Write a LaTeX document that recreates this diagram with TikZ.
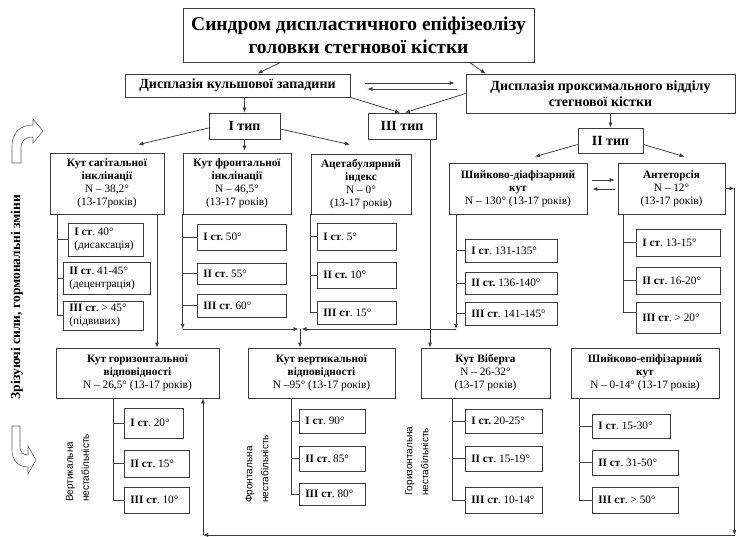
\documentclass[tikz,border=0pt]{standalone}
\usepackage{fontspec}
\setmainfont{Liberation Serif}
\newfontfamily\sansf{Liberation Sans}
\usetikzlibrary{arrows.meta,calc}
\definecolor{lc}{HTML}{3A3A3A}
\frenchspacing
\newcommand\fs[2]{\fontsize{#1}{#2}\selectfont}
\tikzset{
 ln/.style={draw=lc, line width=0.75pt},
 ar/.style={ln, -{Latex[length=5pt,width=4pt]}},
 bx/.style={draw=lc, line width=0.75pt, inner sep=0pt, align=center, font=\fs{11.3}{13}},
 sb/.style={draw=lc, line width=0.75pt, inner sep=0pt},
 st/.style={anchor=west, align=left, inner sep=0pt, font=\fs{11.3}{13}},
 vl/.style={rotate=90, anchor=west, align=left, inner sep=0pt, font=\sansf\fs{10}{16}},
 hollow/.style={draw=lc!80, line width=0.6pt, fill=white},
}
\newcommand\hb[6][]{\node[bx,#1,minimum width={(#4-#2)*1pt},minimum height={(#5-#3)*1pt}] at ({(#2+#4)/2},{(#3+#5)/2})}
\newcommand\stg[6]{\node[sb,minimum width={(#4-#2)*1pt},minimum height={(#5-#3)*1pt}] (#1) at ({(#2+#4)/2},{(#3+#5)/2}) {};
\node[st] (#1t) at ([xshift=6.5pt]#1.west) {#6};}
\begin{document}
\begin{tikzpicture}[x=1pt,y=-1pt]
\useasboundingbox (0,0) rectangle (736,537);
% main boxes
\hb[font=\fs{19.5}{23}\bfseries]{183}{8}{534}{62}{} (title) {Синдром диспластичного епіфізеолізу\\головки стегнової кістки};
\hb[font=\fs{14}{16}\bfseries]{125}{74}{350}{97}{} (dk) {Дисплазія кульшової западини};
\hb[font=\fs{14}{15.5}\bfseries]{466}{74}{735}{113}{} (dp) {Дисплазія проксимального відділу\\стегнової кістки};
\hb[font=\fs{14}{16}\bfseries]{209}{113}{280}{139}{} (t1) {I тип};
\hb[font=\fs{14}{16}\bfseries]{368}{113}{436}{139}{} (t3) {III тип};
\hb[font=\fs{14}{16}\bfseries]{578}{128}{643}{153}{} (t2) {II тип};
% second row
\hb{50}{153}{164}{214}{} (sag) {\textbf{Кут сагітальної}\\\textbf{інклінації}\\N – 38,2°\\(13-17років)};
\hb{183}{153}{291}{214}{} (fr) {\textbf{Кут фронтальної}\\\textbf{інклінації}\\N – 46,5°\\(13-17 років)};
\hb{311}{154}{411}{214}{} (ac) {\textbf{Ацетабулярний}\\\textbf{індекс}\\N – 0°\\(13-17 років)};
\hb{449}{163}{587}{214}{} (sd) {\textbf{Шийково-діафізарний}\\\textbf{кут}\\N – 130° (13-17 років)};
\hb{618}{163}{725}{214}{} (an) {\textbf{Антеторсія}\\N – 12°\\(13-17 років)};
% bottom row
\hb{56}{348}{219}{398}{} (hz) {\textbf{Кут горизонтальної}\\\textbf{відповідності}\\N – 26,5° (13-17 років)};
\hb{248}{348}{395}{398}{} (vt) {\textbf{Кут вертикальної}\\\textbf{відповідності}\\N –95° (13-17 років)};
\hb{421}{348}{550}{398}{} (vb) {\textbf{Кут Віберга}\\N – 26-32°\\(13-17 років)};
\hb{571}{348}{719}{398}{} (se) {\textbf{Шийково-епіфізарний}\\\textbf{кут}\\N – 0-14° (13-17 років)};
% stage boxes
\stg{s11}{68}{223}{143}{256}{\textbf{I ст}. 40°\\(дисаксація)}
\stg{s12}{63}{262}{150}{294}{\textbf{II ст}. 41-45°\\(децентрація)}
\stg{s13}{63}{301}{143}{330}{\textbf{III ст}. > 45°\\(підвивих)}
\stg{s21}{197}{224}{286}{250}{\textbf{I ст.} 50°}
\stg{s22}{197}{263}{286}{284}{\textbf{II ст}. 55°}
\stg{s23}{197}{294}{286}{317}{\textbf{III ст}. 60°}
\stg{s31}{317}{223}{396}{250}{\textbf{I ст}. 5°}
\stg{s32}{317}{262}{396}{288}{\textbf{II ст.} 10°}
\stg{s33}{317}{301}{396}{324}{\textbf{III ст}. 15°}
\stg{s41}{465}{239}{557}{262}{\textbf{I ст}. 131-135°}
\stg{s42}{465}{272}{557}{294}{\textbf{II ст.} 136-140°}
\stg{s43}{465}{302}{557}{325}{\textbf{III ст}. 141-145°}
\stg{s51}{636}{229}{720}{256}{\textbf{I ст}. 13-15°}
\stg{s52}{636}{267}{720}{294}{\textbf{II ст}. 16-20°}
\stg{s53}{636}{302}{720}{333}{\textbf{III ст}. > 20°}
\stg{s61}{124}{408}{183}{438}{\textbf{I ст}. 20°}
\stg{s62}{124}{450}{189}{477}{\textbf{II ст}. 15°}
\stg{s63}{124}{487}{189}{513}{\textbf{III ст}. 10°}
\stg{s71}{299}{409}{365}{433}{\textbf{I ст}. 90°}
\stg{s72}{299}{446}{365}{471}{\textbf{II ст}. 85°}
\stg{s73}{299}{483}{365}{505}{\textbf{III ст}. 80°}
\stg{s81}{465}{409}{542}{433}{\textbf{I ст.} 20-25°}
\stg{s82}{465}{446}{542}{471}{\textbf{II ст}. 15-19°}
\stg{s83}{465}{487}{542}{513}{\textbf{III ст}. 10-14°}
\stg{s91}{592}{414}{670}{438}{\textbf{I ст}. 15-30°}
\stg{s92}{592}{450}{678}{475}{\textbf{II ст}. 31-50°}
\stg{s93}{592}{487}{678}{513}{\textbf{III ст}. > 50°}
% coordinates
\coordinate (k1) at (57,0);
\coordinate (k4) at (456,0);
\coordinate (k5) at (623,0);
\coordinate (k6) at (113,0);
\coordinate (k7) at (291,0);
\coordinate (k8) at (452,0);
\coordinate (k9) at (579,0);
\coordinate (xs) at (157,0);
\coordinate (x3) at (430,0);
\coordinate (j) at (300,329);
\coordinate (c1) at (734.5,535);
\coordinate (c2) at (203,535);
% top connectors
\draw[ar] ([xshift=-78pt]title.south) -- ([xshift=20pt]dk.north);
\draw[ar] ([xshift=111pt]title.south) -- ([xshift=-115pt]dp.north);
\draw[ar] ($(dk.east)+(15,-2.5)$) -- ($(dp.west)+(-11,-10.5)$);
\draw[ar] ($(dp.west)+(-9,-4.5)$) -- ($(dk.east)+(17,3.5)$);
\draw[ar] (dk.south -| t1.north) -- (t1.north);
\draw[ar] (dk.south east) -- ($(t3.north)+(-2,0)$);
\draw[ar] (dp.west) -- ($(t3.north)+(3,0)$);
\draw[ar] (dp.south -| t2.north) -- (t2.north);
\draw[ar] ($(t1.west)+(0,2)$) -- ($(sag.north east)+(-26,-8)$);
\draw[ar] (t1.south) -- ($(t1.south |- fr.north)+(0,-2)$);
\draw[ar] ($(t1.east)+(0,3)$) -- ($(ac.north)+(-11,-9)$);
\draw[ar] ($(t2.west)+(0,4)$) -- ($(sd.north)+(17,-6)$);
\draw[ar] ($(t2.east)+(0,4)$) -- ($(an.north)+(13,-6)$);
\draw[ar] ($(sd.east)+(5,-8.5)$) -- ($(an.west)+(-3,-8.5)$);
\draw[ar] ($(an.west)+(-3,0.5)$) -- ($(sd.east)+(5,0.5)$);
% spines
\draw[ln] (k1 |- sag.south) |- (s13.west);
\foreach \s in {s11,s12} \draw[ln] (k1 |- \s.west) -- (\s.west);
\draw[ar] (fr.south west) -- (fr.south west |- j);
\foreach \s in {s21,s22,s23} \draw[ln] (fr.west |- \s.west) -- (\s.west);
\draw[ln] (ac.south west) |- (s33.west);
\foreach \s in {s31,s32} \draw[ln] (ac.west |- \s.west) -- (\s.west);
\draw[ar] (k4 |- sd.south) -- (k4 |- j);
\foreach \s in {s41,s42,s43} \draw[ln] (k4 |- \s.west) -- (\s.west);
\draw[ln] (k5 |- an.south) |- ([yshift=5pt]s53.west);
\foreach \s in {s51,s52} \draw[ln] (k5 |- \s.west) -- (\s.west);
\draw[ln] (k6 |- hz.south) |- (s63.west);
\foreach \s in {s61,s62} \draw[ln] (k6 |- \s.west) -- (\s.west);
\draw[ln] (k7 |- vt.south) |- (s73.west);
\foreach \s in {s71,s72} \draw[ln] (k7 |- \s.west) -- (\s.west);
\draw[ln] (k8 |- vb.south) |- (s83.west);
\foreach \s in {s81,s82} \draw[ln] (k8 |- \s.west) -- (\s.west);
\draw[ln] (k9 |- se.south) |- (s93.west);
\foreach \s in {s91,s92} \draw[ln] (k9 |- \s.west) -- (\s.west);
% junction to vertical box
\draw[ar] (fr.south west |- j) -- ([xshift=-1.5pt]j);
\draw[ar] (k4 |- j) -- ([xshift=1.5pt]j);
\draw[ar] (j) -- (j |- vt.north);
% long drops
\draw[ar] (xs |- sag.south) -- (xs |- hz.north);
\draw[ar] (x3 |- t3.south) -- (x3 |- vb.north);
% feedback loop
\draw[ar] (an.east) -- (an.east -| c1);
\draw[ar] (an.east -| c1) -- (c1);
\draw[ar] (c1) -- (c2);
\draw[ar] (c2) -- (c2 |- hz.south);
% rotated labels
\node[vl] (l1) at (77.5,502) {Вертикальна\\нестабільність};
\node[vl] (l2) at (257,503) {Фронтальна\\нестабільність};
\node[vl] (l3) at (417,496) {Горизонтальна\\нестабільність};
\node[rotate=90, inner sep=0pt, font=\fs{13.5}{16}\bfseries] (side) at (17,297) {Зрізуючі сили, гормональні зміни};
% hollow bent arrows
\draw[hollow] (12,163) -- (12,146) .. controls (12,133) and (20,125) .. (33,125) -- (33,119) -- (43,131) -- (33,143) -- (33,137) .. controls (25,137) and (21,141) .. (21,148) -- (21,163) -- cycle;
\draw[hollow] (12,426) -- (12,450) .. controls (12,460) and (18,467) .. (28,467) -- (28,474) -- (36,460) -- (28,446) -- (28,455) .. controls (23,455) and (20,452) .. (20,447) -- (20,426) -- cycle;
\end{tikzpicture}
\end{document}
